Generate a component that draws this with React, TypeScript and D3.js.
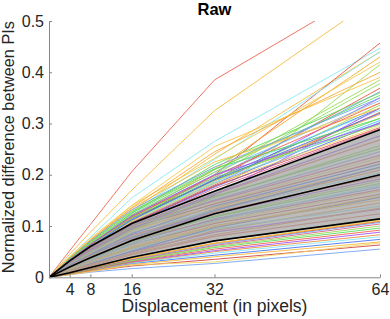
import * as d3 from 'd3';
import { useEffect, useRef } from 'react';

// displacement (px) at which each curve was sampled
const DISPLACEMENTS = [0, 4, 8, 16, 32, 64];
const X_TICKS = [4, 8, 16, 32, 64];
const Y_TICKS = [0, 0.1, 0.2, 0.3, 0.4, 0.5];

// percentile band + median
const UPPER = [0, 0.032, 0.06, 0.105, 0.168, 0.288];
const MEDIAN = [0, 0.02, 0.038, 0.072, 0.124, 0.2];
const LOWER = [0, 0.009, 0.019, 0.039, 0.071, 0.114];

// curves above the band
const HIGH_CURVES = [
  [0, 0.052, 0.103, 0.206, 0.385, 0.575],
  [0, 0.045, 0.088, 0.17, 0.325, 0.55],
  [0, 0.04, 0.078, 0.155, 0.265, 0.447],
  [0, 0.035, 0.07, 0.13, 0.24, 0.44],
  [0, 0.03, 0.06, 0.11, 0.2, 0.457],
  [0, 0.034, 0.066, 0.118, 0.21, 0.43],
  [0, 0.03, 0.056, 0.098, 0.16, 0.415],
  [0, 0.036, 0.07, 0.128, 0.23, 0.44],
  [0, 0.038, 0.072, 0.14, 0.232, 0.42],
  [0, 0.033, 0.063, 0.12, 0.2, 0.378],
  [0, 0.031, 0.06, 0.115, 0.19, 0.369],
  [0, 0.034, 0.064, 0.118, 0.195, 0.362],
  [0, 0.032, 0.062, 0.125, 0.21, 0.355],
  [0, 0.03, 0.058, 0.108, 0.18, 0.35],
  [0, 0.035, 0.066, 0.122, 0.205, 0.345],
  [0, 0.036, 0.068, 0.13, 0.215, 0.34],
  [0, 0.031, 0.059, 0.11, 0.185, 0.336],
  [0, 0.033, 0.061, 0.113, 0.192, 0.33],
  [0, 0.034, 0.065, 0.119, 0.2, 0.326],
  [0, 0.03, 0.057, 0.105, 0.178, 0.322],
  [0, 0.032, 0.06, 0.112, 0.188, 0.318],
  [0, 0.028, 0.052, 0.095, 0.16, 0.33],
  [0, 0.033, 0.062, 0.116, 0.19, 0.31],
  [0, 0.031, 0.058, 0.107, 0.183, 0.306],
  [0, 0.03, 0.056, 0.104, 0.176, 0.302],
  [0, 0.034, 0.063, 0.117, 0.195, 0.298],
  [0, 0.032, 0.06, 0.109, 0.182, 0.295],
  [0, 0.031, 0.058, 0.106, 0.178, 0.292],
  [0, 0.03, 0.056, 0.102, 0.173, 0.29],
  [0, 0.033, 0.061, 0.112, 0.186, 0.305],
  [0, 0.035, 0.067, 0.125, 0.22, 0.36],
  [0, 0.036, 0.07, 0.135, 0.225, 0.33],
  [0, 0.037, 0.071, 0.132, 0.215, 0.35],
  [0, 0.04, 0.076, 0.14, 0.255, 0.39],
  [0, 0.038, 0.073, 0.136, 0.245, 0.4],
  [0, 0.034, 0.066, 0.122, 0.205, 0.385],
  [0, 0.033, 0.063, 0.118, 0.198, 0.34],
  [0, 0.032, 0.06, 0.112, 0.19, 0.32],
  [0, 0.036, 0.069, 0.128, 0.212, 0.31],
  [0, 0.034, 0.064, 0.12, 0.2, 0.3],
];

// curves inside the band
const MID_CURVES = [
  [0, 0.012, 0.022, 0.044, 0.08, 0.124],
  [0, 0.014, 0.027, 0.05, 0.088, 0.133],
  [0, 0.011, 0.024, 0.047, 0.091, 0.145],
  [0, 0.016, 0.029, 0.055, 0.094, 0.139],
  [0, 0.013, 0.026, 0.051, 0.097, 0.156],
  [0, 0.018, 0.033, 0.06, 0.101, 0.151],
  [0, 0.015, 0.03, 0.058, 0.108, 0.168],
  [0, 0.02, 0.036, 0.064, 0.105, 0.162],
  [0, 0.017, 0.032, 0.067, 0.114, 0.176],
  [0, 0.022, 0.04, 0.071, 0.112, 0.171],
  [0, 0.019, 0.037, 0.069, 0.12, 0.188],
  [0, 0.024, 0.043, 0.078, 0.118, 0.183],
  [0, 0.021, 0.039, 0.074, 0.127, 0.197],
  [0, 0.026, 0.046, 0.083, 0.124, 0.192],
  [0, 0.023, 0.042, 0.08, 0.133, 0.209],
  [0, 0.027, 0.048, 0.087, 0.131, 0.204],
  [0, 0.025, 0.045, 0.085, 0.139, 0.221],
  [0, 0.029, 0.052, 0.093, 0.137, 0.214],
  [0, 0.026, 0.047, 0.089, 0.145, 0.233],
  [0, 0.03, 0.054, 0.097, 0.143, 0.226],
  [0, 0.028, 0.05, 0.094, 0.151, 0.245],
  [0, 0.031, 0.056, 0.101, 0.149, 0.238],
  [0, 0.027, 0.049, 0.092, 0.156, 0.257],
  [0, 0.032, 0.057, 0.102, 0.158, 0.251],
  [0, 0.029, 0.053, 0.098, 0.162, 0.268],
  [0, 0.03, 0.055, 0.1, 0.163, 0.276],
  [0, 0.013, 0.025, 0.046, 0.083, 0.135],
  [0, 0.02, 0.035, 0.063, 0.11, 0.18],
  [0, 0.024, 0.044, 0.077, 0.13, 0.215],
  [0, 0.016, 0.031, 0.057, 0.099, 0.158],
];

// curves below the band
const LOW_CURVES = [
  [0, 0.005, 0.01, 0.017, 0.027, 0.055],
  [0, 0.006, 0.012, 0.022, 0.035, 0.063],
  [0, 0.005, 0.011, 0.024, 0.03, 0.067],
  [0, 0.007, 0.013, 0.025, 0.04, 0.069],
  [0, 0.008, 0.014, 0.027, 0.043, 0.074],
  [0, 0.008, 0.015, 0.028, 0.047, 0.079],
  [0, 0.007, 0.014, 0.029, 0.05, 0.083],
  [0, 0.008, 0.016, 0.03, 0.052, 0.088],
  [0, 0.009, 0.016, 0.031, 0.055, 0.092],
  [0, 0.008, 0.016, 0.032, 0.058, 0.096],
  [0, 0.009, 0.017, 0.033, 0.06, 0.1],
  [0, 0.009, 0.017, 0.034, 0.062, 0.104],
  [0, 0.01, 0.018, 0.035, 0.064, 0.107],
  [0, 0.009, 0.018, 0.036, 0.066, 0.109],
  [0, 0.01, 0.019, 0.036, 0.066, 0.112],
  [0, 0.01, 0.019, 0.037, 0.067, 0.11],
];

const HIGH_COLORS = [
  '#ee5a46', '#f7b733', '#7fe8f2', '#f7b733', '#e8503a', '#f5a623', '#8fdc4c', '#7fe8f2',
  '#f4c542', '#8fdc4c', '#e8503a', '#6d9ff2', '#57d957', '#a34bf0', '#7fb8f2', '#f4d35e',
  '#8fdc4c', '#3f6ef0', '#7fe8f2', '#ee5a46', '#f7a533', '#a34bf0', '#57d957', '#6d9ff2',
  '#3f6ef0', '#8fdc4c', '#f4d35e', '#d94a4a', '#d65a8c', '#7fe8f2', '#57d957', '#f7b733',
  '#6d9ff2', '#f4c542', '#f7a533', '#8fdc4c', '#ee5a46', '#3f6ef0', '#57d957', '#a34bf0',
];

const PALETTE = [
  '#ee5a46', '#f7b733', '#8fdc4c', '#7fe8f2', '#6d9ff2', '#a34bf0',
  '#f4d35e', '#57d957', '#3f6ef0', '#d65a8c', '#e8883a', '#c93c3c',
];

const WIDTH = 390;
const HEIGHT = 319;
const PLOT = { left: 49, right: 380, top: 21, bottom: 277.3 };
const FONT = 'Arial, "Liberation Sans", Helvetica, sans-serif';
const AXIS_GREY = '#858585';
const TEXT_DARK = '#262626';

export default function App() {
  const xAxisRef = useRef<SVGGElement>(null);
  const yAxisRef = useRef<SVGGElement>(null);

  const x = d3.scaleLinear().domain([0, 64]).range([PLOT.left, PLOT.right]);
  const y = d3.scaleLinear().domain([0, 0.5]).range([PLOT.bottom, PLOT.top]);

  const line = d3
    .line<number>()
    .x((_, i) => x(DISPLACEMENTS[i]))
    .y((d) => y(d));

  const band = d3
    .area<number>()
    .x((_, i) => x(DISPLACEMENTS[i]))
    .y0((_, i) => y(LOWER[i]))
    .y1((d) => y(d));

  useEffect(() => {
    const styleAxis = (g: d3.Selection<SVGGElement, unknown, null, undefined>) => {
      g.select('.domain').attr('stroke', AXIS_GREY);
      g.selectAll('.tick line').attr('stroke', AXIS_GREY);
      g.selectAll('.tick text')
        .attr('fill', TEXT_DARK)
        .style('font-size', '16px')
        .style('font-family', FONT);
    };
    if (xAxisRef.current) {
      d3.select(xAxisRef.current)
        .call(d3.axisBottom(x).tickValues(X_TICKS).tickSizeInner(-3).tickSizeOuter(0).tickPadding(6))
        .call(styleAxis);
    }
    if (yAxisRef.current) {
      d3.select(yAxisRef.current)
        .call(
          d3
            .axisLeft(y)
            .tickValues(Y_TICKS)
            .tickFormat((d) => (Number(d) === 0 ? '0' : d3.format('.1f')(Number(d))))
            .tickSizeInner(-3)
            .tickSizeOuter(0)
            .tickPadding(5),
        )
        .call(styleAxis);
    }
  });

  return (
    <svg
      width={WIDTH}
      height={HEIGHT}
      style={{ position: 'absolute', left: 0, top: 0, background: '#fff' }}
    >
      <defs>
        <clipPath id='plot-clip'>
          <rect
            x={PLOT.left}
            y={PLOT.top}
            width={PLOT.right - PLOT.left}
            height={PLOT.bottom - PLOT.top}
          />
        </clipPath>
      </defs>
      <g clipPath='url(#plot-clip)'>
        {MID_CURVES.map((c, i) => (
          <path
            key={'m' + i}
            d={line(c) ?? ''}
            fill='none'
            stroke={PALETTE[(i * 5) % PALETTE.length]}
            strokeWidth={1.2}
            strokeOpacity={0.9}
          />
        ))}
        {LOW_CURVES.map((c, i) => (
          <path
            key={'l' + i}
            d={line(c) ?? ''}
            fill='none'
            stroke={PALETTE[(i * 7 + 4) % PALETTE.length]}
            strokeWidth={1}
            strokeOpacity={0.85}
          />
        ))}
        {HIGH_CURVES.map((c, i) => (
          <path
            key={'h' + i}
            d={line(c) ?? ''}
            fill='none'
            stroke={HIGH_COLORS[i % HIGH_COLORS.length]}
            strokeWidth={1}
            strokeOpacity={0.85}
          />
        ))}
        <path d={band(UPPER) ?? ''} fill='#a2a2a2' fillOpacity={0.72} />
        {[UPPER, MEDIAN, LOWER].map((c, i) => (
          <path key={'b' + i} d={line(c) ?? ''} fill='none' stroke='#000' strokeWidth={1.6} />
        ))}
      </g>
      <g ref={xAxisRef} transform={`translate(0,${PLOT.bottom})`} />
      <g ref={yAxisRef} transform={`translate(${PLOT.left},0)`} />
      <text
        x={(PLOT.left + PLOT.right) / 2}
        y={15}
        textAnchor='middle'
        fontFamily={FONT}
        fontWeight='bold'
        fontSize={16.5}
        fill='#000'
      >
        Raw
      </text>
      <text
        x={(PLOT.left + PLOT.right) / 2}
        y={312}
        textAnchor='middle'
        fontFamily={FONT}
        fontSize={17.5}
        fill={TEXT_DARK}
      >
        Displacement (in pixels)
      </text>
      <text
        transform={`translate(14,${(PLOT.top + PLOT.bottom) / 2 - 2}) rotate(-90)`}
        textAnchor='middle'
        fontFamily={FONT}
        fontSize={16.3}
        fill={TEXT_DARK}
      >
        Normalized difference between PIs
      </text>
    </svg>
  );
}
